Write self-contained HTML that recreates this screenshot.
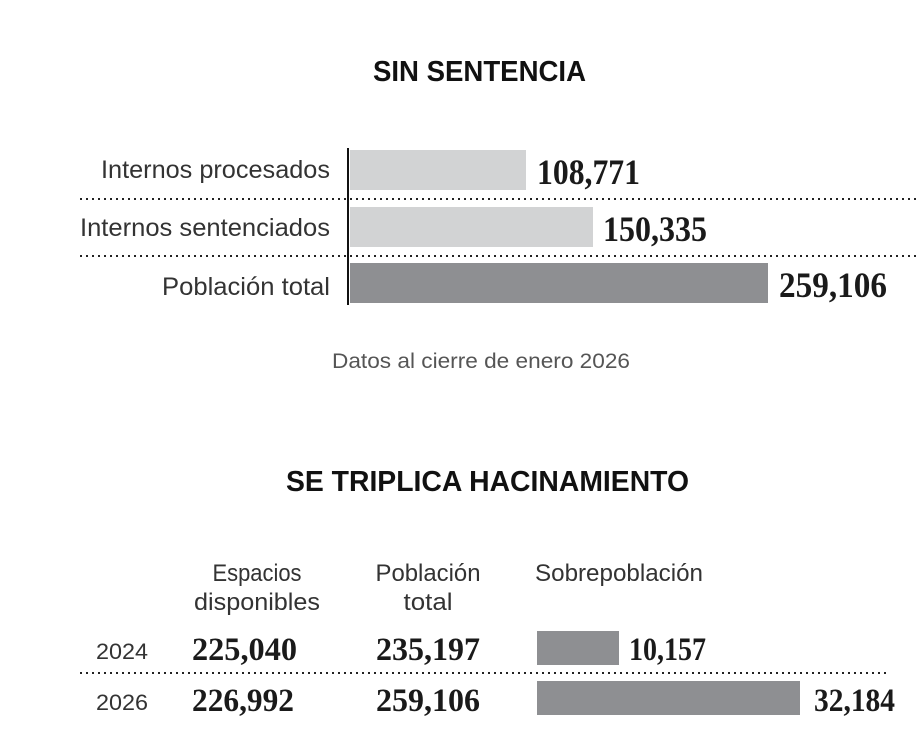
<!DOCTYPE html>
<html><head><meta charset="utf-8"><style>
html,body{margin:0;padding:0;background:#fff;}
svg{display:block;}
.s{font-family:"Liberation Sans",sans-serif;fill:#333;}
.t{font-family:"Liberation Sans",sans-serif;font-weight:bold;fill:#111;}
.n{font-family:"Liberation Serif",serif;font-weight:bold;fill:#1a1a1a;}
</style></head><body>
<svg width="916" height="732" viewBox="0 0 916 732" xmlns="http://www.w3.org/2000/svg">
<text class="t" x="373" y="81" font-size="29" textLength="213" lengthAdjust="spacingAndGlyphs">SIN SENTENCIA</text>

<text class="s" x="330" y="178" font-size="25" text-anchor="end" textLength="229" lengthAdjust="spacingAndGlyphs">Internos procesados</text>
<text class="s" x="330" y="236" font-size="25" text-anchor="end" textLength="250" lengthAdjust="spacingAndGlyphs">Internos sentenciados</text>
<text class="s" x="330" y="295" font-size="25" text-anchor="end" textLength="168" lengthAdjust="spacingAndGlyphs">Población total</text>

<rect x="350" y="150" width="176" height="40" fill="#d2d3d4"/>
<rect x="350" y="207" width="243" height="40" fill="#d2d3d4"/>
<rect x="350" y="263" width="418" height="40" fill="#8e8f92"/>
<line x1="80" y1="199" x2="916" y2="199" stroke="#222" stroke-width="2" stroke-dasharray="2,4"/>
<line x1="80" y1="256" x2="916" y2="256" stroke="#222" stroke-width="2" stroke-dasharray="2,4"/>
<line x1="348" y1="148" x2="348" y2="305" stroke="#111" stroke-width="2"/>

<text class="n" x="537" y="184" font-size="36" textLength="103" lengthAdjust="spacingAndGlyphs">108,771</text>
<text class="n" x="603" y="241" font-size="36" textLength="104" lengthAdjust="spacingAndGlyphs">150,335</text>
<text class="n" x="779" y="297" font-size="36" textLength="108" lengthAdjust="spacingAndGlyphs">259,106</text>

<text class="s" x="481" y="368" font-size="21" style="fill:#555" text-anchor="middle" textLength="298" lengthAdjust="spacingAndGlyphs">Datos al cierre de enero 2026</text>

<text class="t" x="286" y="491" font-size="29" textLength="403" lengthAdjust="spacingAndGlyphs">SE TRIPLICA HACINAMIENTO</text>

<text class="s" x="257" y="581" font-size="24" text-anchor="middle" textLength="89" lengthAdjust="spacingAndGlyphs">Espacios</text>
<text class="s" x="257" y="610" font-size="24" text-anchor="middle" textLength="126" lengthAdjust="spacingAndGlyphs">disponibles</text>
<text class="s" x="428" y="581" font-size="24" text-anchor="middle" textLength="105" lengthAdjust="spacingAndGlyphs">Población</text>
<text class="s" x="428" y="610" font-size="24" text-anchor="middle" textLength="49" lengthAdjust="spacingAndGlyphs">total</text>
<text class="s" x="535" y="581" font-size="24" textLength="168" lengthAdjust="spacingAndGlyphs">Sobrepoblación</text>

<text class="s" x="96" y="659" font-size="22" textLength="52" lengthAdjust="spacingAndGlyphs">2024</text>
<text class="n" x="192" y="660" font-size="33" textLength="105" lengthAdjust="spacingAndGlyphs">225,040</text>
<text class="n" x="376" y="660" font-size="33" textLength="104" lengthAdjust="spacingAndGlyphs">235,197</text>
<rect x="537" y="631" width="82" height="34" fill="#8e8f92"/>
<text class="n" x="629" y="660" font-size="33" textLength="77" lengthAdjust="spacingAndGlyphs">10,157</text>

<line x1="80" y1="673" x2="886" y2="673" stroke="#222" stroke-width="2" stroke-dasharray="2,4"/>

<text class="s" x="96" y="710" font-size="22" textLength="52" lengthAdjust="spacingAndGlyphs">2026</text>
<text class="n" x="192" y="711" font-size="33" textLength="102" lengthAdjust="spacingAndGlyphs">226,992</text>
<text class="n" x="376" y="711" font-size="33" textLength="104" lengthAdjust="spacingAndGlyphs">259,106</text>
<rect x="537" y="681" width="263" height="34" fill="#8e8f92"/>
<text class="n" x="814" y="711" font-size="33" textLength="81" lengthAdjust="spacingAndGlyphs">32,184</text>
</svg>
</body></html>
